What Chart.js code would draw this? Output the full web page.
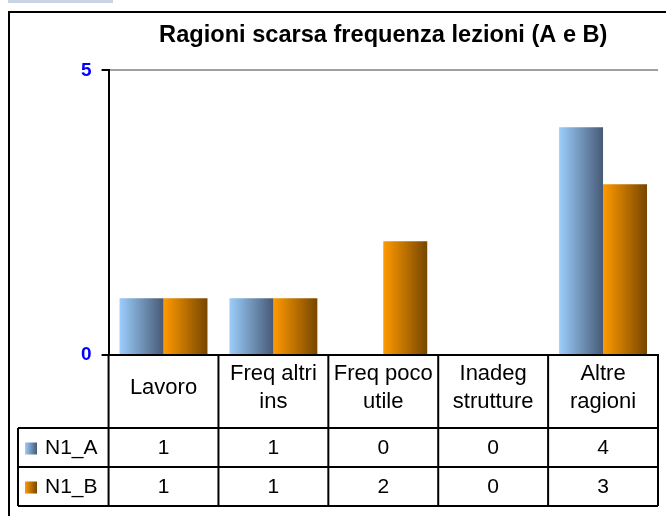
<!DOCTYPE html>
<html>
<head>
<meta charset="utf-8">
<script src="https://cdn.jsdelivr.net/npm/chart.js@4.4.1/dist/chart.umd.min.js"></script>
<style>
  html, body { margin: 0; padding: 0; background: #fff; }
  #wrap { position: relative; width: 666px; height: 516px; }
  canvas { display: block; }
</style>
</head>
<body>
<div id="wrap"><canvas id="c" width="666" height="516"></canvas></div>
<script>
const titleText = 'Ragioni scarsa frequenza lezioni (A e B)';
const categories = [['Lavoro'], ['Freq altri', 'ins'], ['Freq poco', 'utile'], ['Inadeg', 'strutture'], ['Altre', 'ragioni']];
const seriesNames = ['N1_A', 'N1_B'];
const valuesA = [1, 1, 0, 0, 4];
const valuesB = [1, 1, 2, 0, 3];
const yTicks = [0, 5];

const FONT = "'Liberation Sans', Arial, sans-serif";
const GRADS = [['#9ccdfc', '#475a76'], ['#ff9a00', '#774600']];
const CAT_PCT = 0.8;

function barGradient(ctx) {
  const chart = ctx.chart;
  const cols = GRADS[ctx.datasetIndex];
  const x = chart.scales.x;
  if (!chart.chartArea || !x) return cols[0];
  const n = categories.length;
  const cw = x.width / n;
  const gw = cw * CAT_PCT;
  const bw = gw / 2;
  const left = x.getPixelForValue(ctx.dataIndex) - gw / 2 + ctx.datasetIndex * bw;
  const g = chart.ctx.createLinearGradient(left, 0, left + bw, 0);
  g.addColorStop(0, cols[0]);
  g.addColorStop(1, cols[1]);
  return g;
}

const tablePlugin = {
  id: 'tablePlugin',
  beforeDraw(chart) {
    const c = chart.ctx;
    c.save();
    c.fillStyle = '#c8d4e4';
    c.fillRect(8, 0, 105, 3);
    c.strokeStyle = '#000';
    c.lineWidth = 2;
    c.beginPath();
    c.moveTo(9, 516); c.lineTo(9, 12); c.lineTo(666, 12);
    c.stroke();
    c.restore();
  },
  afterDraw(chart) {
    const c = chart.ctx;
    const x = chart.scales.x;
    const area = chart.chartArea;
    const n = categories.length;
    const cw = x.width / n;
    const top = area.bottom;
    const r1 = 428, r2 = 467, r3 = 506;
    const leftT = 18;
    c.save();
    c.strokeStyle = '#000';
    c.lineWidth = 2;
    c.beginPath();
    for (let i = 0; i <= n; i++) {
      const bx = x.left + i * cw;
      c.moveTo(bx, top); c.lineTo(bx, r3);
    }
    c.moveTo(leftT, r1); c.lineTo(x.right, r1);
    c.moveTo(leftT, r2); c.lineTo(x.right, r2);
    c.moveTo(leftT, r3); c.lineTo(x.right, r3);
    c.moveTo(leftT, r1); c.lineTo(leftT, r3);
    c.stroke();

    const rows = [valuesA, valuesB];
    const rowMid = [(r1 + r2) / 2 + 1, (r2 + r3) / 2 + 1];
    c.font = '21px ' + FONT;
    c.textBaseline = 'middle';
    rows.forEach((vals, ri) => {
      c.fillStyle = '#000';
      c.textAlign = 'center';
      vals.forEach((v, i) => {
        c.fillText(String(v), x.getPixelForValue(i), rowMid[ri]);
      });
      const kx = 25, ky = rowMid[ri] - 6;
      const g = c.createLinearGradient(kx, 0, kx + 12, 0);
      g.addColorStop(0, GRADS[ri][0]);
      g.addColorStop(1, GRADS[ri][1]);
      c.fillStyle = g;
      c.fillRect(kx, ky, 12, 12);
      c.fillStyle = '#000';
      c.textAlign = 'left';
      c.fillText(seriesNames[ri], 45, rowMid[ri]);
    });
    c.restore();
  }
};

new Chart(document.getElementById('c'), {
  type: 'bar',
  data: {
    labels: categories,
    datasets: [
      { label: seriesNames[0], data: valuesA, backgroundColor: barGradient, borderWidth: 0 },
      { label: seriesNames[1], data: valuesB, backgroundColor: barGradient, borderWidth: 0 }
    ]
  },
  options: {
    responsive: false,
    animation: false,
    events: [],
    datasets: { bar: { categoryPercentage: CAT_PCT, barPercentage: 1 } },
    layout: { padding: { left: 71, right: 8, top: 0, bottom: 67 } },
    plugins: {
      legend: { display: false },
      tooltip: { enabled: false },
      title: {
        display: true,
        text: titleText,
        fullSize: false,
        color: '#000',
        font: { family: FONT, size: 23.6, weight: 'bold', lineHeight: 1.2 },
        padding: { top: 21, bottom: 21 }
      }
    },
    scales: {
      x: {
        grid: { display: false, drawTicks: false },
        border: { display: true, color: '#000', width: 2 },
        ticks: {
          color: '#000',
          padding: 19,
          maxRotation: 0,
          autoSkip: false,
          crossAlign: 'center',
          font: { family: FONT, size: 22, lineHeight: 1.27 }
        }
      },
      y: {
        min: 0,
        max: 5,
        afterBuildTicks(scale) { scale.ticks = yTicks.map(v => ({ value: v })); },
        grid: {
          color: (ctx) => (ctx.tick && ctx.tick.value === 0) ? 'rgba(0,0,0,0)' : '#a0a0a0',
          tickColor: '#000',
          tickLength: 7,
          lineWidth: 2
        },
        border: { display: true, color: '#000', width: 2 },
        ticks: {
          color: '#0000ff',
          padding: 10,
          font: { family: FONT, size: 19, weight: 'bold' }
        }
      }
    }
  },
  plugins: [tablePlugin]
});
</script>
</body>
</html>
